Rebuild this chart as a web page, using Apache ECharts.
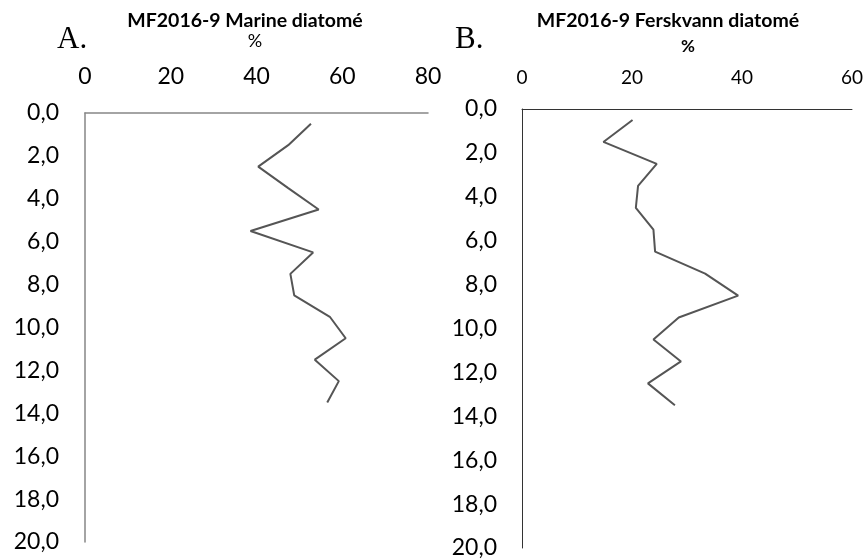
<!DOCTYPE html>
<html>
<head>
<meta charset="utf-8">
<script src="https://cdn.jsdelivr.net/npm/echarts@6/dist/echarts.min.js"></script>
<style>
html,body{margin:0;padding:0;background:#fff;}
#chart{width:866px;height:560px;}
</style>
</head>
<body>
<div id="chart"></div>
<script>
// Depth (cm) of each sample
var depths = [0.5, 1.5, 2.5, 3.5, 4.5, 5.5, 6.5, 7.5, 8.5, 9.5, 10.5, 11.5, 12.5, 13.5];
// A. Marine diatoms (%)
var marine = [52.7, 47.4, 40.4, 47.4, 54.5, 38.6, 53.2, 47.9, 48.8, 57.1, 60.8, 53.6, 59.2, 56.5];
// B. Freshwater diatoms (%)
var fresh = [20.1, 14.8, 24.5, 21.1, 20.7, 23.9, 24.2, 33.3, 39.3, 28.5, 23.9, 28.9, 22.9, 27.8];

var titleA = 'MF2016-9 Marine diatomé';
var titleB = 'MF2016-9 Ferskvann diatomé';
var unitLabel = '%';
var panelA = 'A.';
var panelB = 'B.';

function pairs(xs, ys) { return xs.map(function (v, i) { return [v, ys[i]]; }); }
function depthFmt(v) { return v.toFixed(1).replace('.', ','); }

var chart = echarts.init(document.getElementById('chart'), null, {renderer: 'canvas'});
var FONT = 'Lato, "Open Sans", sans-serif';

chart.setOption({
  backgroundColor: '#ffffff',
  animation: false,
  grid: [
    {left: 85, top: 113, width: 343, height: 429},
    {left: 522, top: 109, width: 336, height: 439}
  ],
  xAxis: [
    {gridIndex: 0, type: 'value', position: 'top', min: 0, max: 80, interval: 20,
     axisLine: {show: true, lineStyle: {color: '#868686', width: 1.5}},
     axisTick: {show: false}, splitLine: {show: false},
     axisLabel: {color: '#000', fontSize: 23, fontFamily: FONT, margin: 25}},
    {gridIndex: 1, type: 'value', position: 'top', min: 0, max: 60, interval: 20,
     axisLine: {show: true, lineStyle: {color: '#333', width: 1}},
     axisTick: {show: false}, splitLine: {show: false},
     axisLabel: {color: '#000', fontSize: 19, fontFamily: FONT, margin: 22}}
  ],
  yAxis: [
    {gridIndex: 0, type: 'value', inverse: true, min: 0, max: 20, interval: 2,
     axisLine: {show: true, lineStyle: {color: '#868686', width: 1.5}},
     axisTick: {show: false}, splitLine: {show: false},
     axisLabel: {color: '#000', fontSize: 23, fontFamily: FONT, margin: 26, formatter: depthFmt}},
    {gridIndex: 1, type: 'value', inverse: true, min: 0, max: 20, interval: 2,
     axisLine: {show: true, lineStyle: {color: '#333', width: 1}},
     axisTick: {show: false}, splitLine: {show: false},
     axisLabel: {color: '#000', fontSize: 23, fontFamily: FONT, margin: 25, formatter: depthFmt}}
  ],
  series: [
    {type: 'line', xAxisIndex: 0, yAxisIndex: 0, data: pairs(marine, depths),
     showSymbol: false, lineStyle: {color: '#555555', width: 2}},
    {type: 'line', xAxisIndex: 1, yAxisIndex: 1, data: pairs(fresh, depths),
     showSymbol: false, lineStyle: {color: '#555555', width: 2}}
  ],
  graphic: [
    {type: 'text', x: 245, y: 21, style: {text: titleA, font: 'bold 19.5px ' + FONT, fill: '#000', align: 'center', verticalAlign: 'middle'}},
    {type: 'text', x: 255, y: 41, style: {text: unitLabel, font: '18px ' + FONT, fill: '#000', align: 'center', verticalAlign: 'middle'}},
    {type: 'text', x: 57, y: 40, style: {text: panelA, font: '31px "Liberation Serif", serif', fill: '#000', align: 'left', verticalAlign: 'middle'}},
    {type: 'text', x: 668, y: 21, style: {text: titleB, font: 'bold 19.5px ' + FONT, fill: '#000', align: 'center', verticalAlign: 'middle'}},
    {type: 'text', x: 688, y: 47, style: {text: unitLabel, font: 'bold 17px ' + FONT, fill: '#000', align: 'center', verticalAlign: 'middle'}},
    {type: 'text', x: 455, y: 40, style: {text: panelB, font: '31px "Liberation Serif", serif', fill: '#000', align: 'left', verticalAlign: 'middle'}}
  ]
});
</script>
</body>
</html>
